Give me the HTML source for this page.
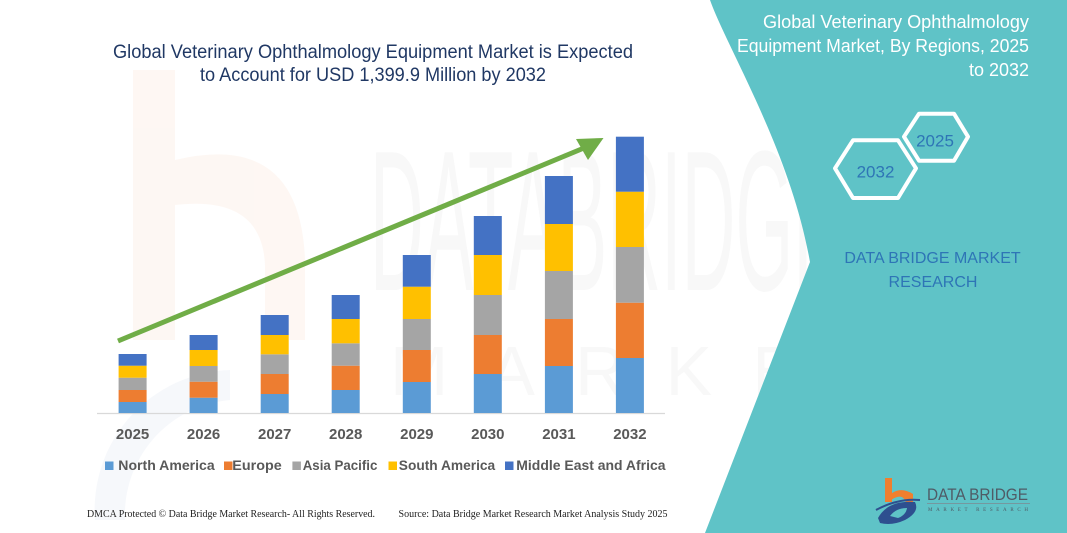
<!DOCTYPE html>
<html>
<head>
<meta charset="utf-8">
<style>
  html,body{margin:0;padding:0;background:#fff;}
  body{width:1067px;height:533px;overflow:hidden;}
  svg{display:block;}
</style>
</head>
<body>
<svg width="1067" height="533" viewBox="0 0 1067 533" xmlns="http://www.w3.org/2000/svg">
  <rect x="0" y="0" width="1067" height="533" fill="#ffffff"/>

  <!-- faint watermark: orange b -->
  <g opacity="0.5">
    <rect x="133" y="70" width="42" height="270" fill="#fdf0e8"/>
    <path d="M175,160 Q300,130 305,260 L305,340 L265,340 L265,265 Q262,195 175,205 Z" fill="#fdf0e8"/>
    <path d="M95,520 A140,140 0 0 1 230,370 L230,400 A115,115 0 0 0 125,520 Z" fill="#eef2f8"/>
  </g>
  <!-- faint watermark letters -->
  <g fill="#000" opacity="0.028" font-family="Liberation Sans, sans-serif">
    <text x="370" y="290" font-size="200" transform="translate(370,290) scale(0.55,1) translate(-370,-290)" textLength="860" lengthAdjust="spacingAndGlyphs">DATABRIDGE</text>
    <text x="390" y="395" font-size="70" letter-spacing="40">MARKET RESEARCH</text>
  </g>

  <!-- teal panel -->
  <path d="M710,0 C728,50 790,150 810,262 L705,533 L1067,533 L1067,0 Z" fill="#5FC3C7"/>

  <!-- left title -->
  <g font-family="Liberation Sans, sans-serif" font-size="19" fill="#203864">
    <text x="113" y="58" textLength="520" lengthAdjust="spacingAndGlyphs">Global Veterinary Ophthalmology Equipment Market is Expected</text>
    <text x="200" y="81" textLength="346" lengthAdjust="spacingAndGlyphs">to Account for USD 1,399.9 Million by 2032</text>
  </g>

  <!-- axis line -->
  <line x1="97" y1="413.5" x2="665" y2="413.5" stroke="#d9d9d9" stroke-width="1.2"/>

  <!-- bars -->
  <g>
    <!-- 2025 -->
    <rect x="118.6" y="402" width="28" height="11" fill="#5B9BD5"/>
    <rect x="118.6" y="390" width="28" height="12" fill="#ED7D31"/>
    <rect x="118.6" y="377.7" width="28" height="12.3" fill="#A5A5A5"/>
    <rect x="118.6" y="365.7" width="28" height="12" fill="#FFC000"/>
    <rect x="118.6" y="354" width="28" height="11.7" fill="#4472C4"/>
    <!-- 2026 -->
    <rect x="189.6" y="397.7" width="28" height="15.3" fill="#5B9BD5"/>
    <rect x="189.6" y="381.7" width="28" height="16" fill="#ED7D31"/>
    <rect x="189.6" y="366" width="28" height="15.7" fill="#A5A5A5"/>
    <rect x="189.6" y="350" width="28" height="16" fill="#FFC000"/>
    <rect x="189.6" y="335" width="28" height="15" fill="#4472C4"/>
    <!-- 2027 -->
    <rect x="260.7" y="394" width="28" height="19" fill="#5B9BD5"/>
    <rect x="260.7" y="374" width="28" height="20" fill="#ED7D31"/>
    <rect x="260.7" y="354.3" width="28" height="19.7" fill="#A5A5A5"/>
    <rect x="260.7" y="335" width="28" height="19.3" fill="#FFC000"/>
    <rect x="260.7" y="315" width="28" height="20" fill="#4472C4"/>
    <!-- 2028 -->
    <rect x="331.7" y="390" width="28" height="23" fill="#5B9BD5"/>
    <rect x="331.7" y="365.7" width="28" height="24.3" fill="#ED7D31"/>
    <rect x="331.7" y="343.3" width="28" height="22.4" fill="#A5A5A5"/>
    <rect x="331.7" y="319" width="28" height="24.3" fill="#FFC000"/>
    <rect x="331.7" y="295" width="28" height="24" fill="#4472C4"/>
    <!-- 2029 -->
    <rect x="402.8" y="382" width="28" height="31" fill="#5B9BD5"/>
    <rect x="402.8" y="350" width="28" height="32" fill="#ED7D31"/>
    <rect x="402.8" y="319" width="28" height="31" fill="#A5A5A5"/>
    <rect x="402.8" y="286.7" width="28" height="32.3" fill="#FFC000"/>
    <rect x="402.8" y="255" width="28" height="31.7" fill="#4472C4"/>
    <!-- 2030 -->
    <rect x="473.8" y="374" width="28" height="39" fill="#5B9BD5"/>
    <rect x="473.8" y="335" width="28" height="39" fill="#ED7D31"/>
    <rect x="473.8" y="295" width="28" height="40" fill="#A5A5A5"/>
    <rect x="473.8" y="255" width="28" height="40" fill="#FFC000"/>
    <rect x="473.8" y="216" width="28" height="39" fill="#4472C4"/>
    <!-- 2031 -->
    <rect x="544.9" y="366" width="28" height="47" fill="#5B9BD5"/>
    <rect x="544.9" y="319" width="28" height="47" fill="#ED7D31"/>
    <rect x="544.9" y="271" width="28" height="48" fill="#A5A5A5"/>
    <rect x="544.9" y="224" width="28" height="47" fill="#FFC000"/>
    <rect x="544.9" y="176" width="28" height="48" fill="#4472C4"/>
    <!-- 2032 -->
    <rect x="615.9" y="358" width="28" height="55" fill="#5B9BD5"/>
    <rect x="615.9" y="302.7" width="28" height="55.3" fill="#ED7D31"/>
    <rect x="615.9" y="247" width="28" height="55.7" fill="#A5A5A5"/>
    <rect x="615.9" y="191.7" width="28" height="55.3" fill="#FFC000"/>
    <rect x="615.9" y="136.7" width="28" height="55" fill="#4472C4"/>
  </g>

  <!-- arrow -->
  <line x1="118" y1="341" x2="584" y2="148" stroke="#70AD47" stroke-width="5"/>
  <polygon points="603.5,138 576,139 588,160" fill="#70AD47"/>

  <!-- year labels -->
  <g font-family="Liberation Sans, sans-serif" font-size="15" font-weight="bold" fill="#595959" text-anchor="middle">
    <text x="132.6" y="439">2025</text>
    <text x="203.6" y="439">2026</text>
    <text x="274.7" y="439">2027</text>
    <text x="345.7" y="439">2028</text>
    <text x="416.8" y="439">2029</text>
    <text x="487.8" y="439">2030</text>
    <text x="558.9" y="439">2031</text>
    <text x="629.9" y="439">2032</text>
  </g>

  <!-- legend -->
  <g font-family="Liberation Sans, sans-serif" font-size="14" font-weight="bold" fill="#595959">
    <rect x="105" y="461.5" width="8.5" height="8.5" fill="#5B9BD5"/>
    <text x="118.3" y="470" textLength="96.4" lengthAdjust="spacingAndGlyphs">North America</text>
    <rect x="224" y="461.5" width="8.5" height="8.5" fill="#ED7D31"/>
    <text x="232.3" y="470" textLength="49.4" lengthAdjust="spacingAndGlyphs">Europe</text>
    <rect x="292.4" y="461.5" width="8.5" height="8.5" fill="#A5A5A5"/>
    <text x="302.7" y="470" textLength="74.7" lengthAdjust="spacingAndGlyphs">Asia Pacific</text>
    <rect x="388.5" y="461.5" width="8.5" height="8.5" fill="#FFC000"/>
    <text x="398.8" y="470" textLength="96.4" lengthAdjust="spacingAndGlyphs">South America</text>
    <rect x="505" y="461.5" width="8.5" height="8.5" fill="#4472C4"/>
    <text x="516.3" y="470" textLength="149.2" lengthAdjust="spacingAndGlyphs">Middle East and Africa</text>
  </g>

  <!-- footer -->
  <g font-family="Liberation Serif, serif" font-size="10" fill="#222">
    <text x="87" y="517" textLength="288" lengthAdjust="spacingAndGlyphs">DMCA Protected © Data Bridge Market Research-  All Rights Reserved.</text>
    <text x="398.5" y="517" textLength="269" lengthAdjust="spacingAndGlyphs">Source:  Data Bridge Market Research  Market Analysis Study 2025</text>
  </g>

  <!-- right title -->
  <g font-family="Liberation Sans, sans-serif" font-size="18" fill="#ffffff">
    <text x="763" y="28" textLength="266" lengthAdjust="spacingAndGlyphs">Global Veterinary Ophthalmology</text>
    <text x="737" y="52" textLength="292" lengthAdjust="spacingAndGlyphs">Equipment Market, By Regions, 2025</text>
    <text x="1029" y="76" text-anchor="end">to 2032</text>
  </g>

  <!-- hexagons -->
  <g fill="none" stroke="#ffffff" stroke-width="4" stroke-linejoin="round">
    <polygon points="835,168.3 853,140.3 898,140.3 916,168.3 898,198 853,198"/>
    <polygon points="904,136.7 919,113.7 954,113.7 968,136.7 954,160.7 919,160.7"/>
  </g>
  <g font-family="Liberation Sans, sans-serif" font-size="17" fill="#2E75B6" text-anchor="middle">
    <text x="875.5" y="177.5">2032</text>
    <text x="935" y="146.5">2025</text>
  </g>

  <!-- DATA BRIDGE MARKET RESEARCH -->
  <g font-family="Liberation Sans, sans-serif" font-size="16" fill="#2E75B6" text-anchor="middle">
    <text x="932.5" y="263">DATA BRIDGE MARKET</text>
    <text x="933" y="287">RESEARCH</text>
  </g>

  <!-- logo -->
  <g>
    <rect x="885" y="478" width="7" height="24" fill="#F07F2E"/>
    <path d="M885,500 Q897,484 913,494 L913,503 L906,503 Q903,492 891,500 Z" fill="#F07F2E"/>
    <path d="M878,518 Q888,500 915,502 Q920,512 905,520 Q892,526 880,523 Z" fill="#2E4F8F"/>
    <path d="M890,516 Q896,508 907,508 Q906,515 898,518 Z" fill="#5FC3C7"/>
    <path d="M876,510 Q898,498 920,500" fill="none" stroke="#2E4F8F" stroke-width="2"/>
    <text x="927" y="500" font-family="Liberation Sans, sans-serif" font-size="17" fill="#4f5b66" textLength="101" lengthAdjust="spacingAndGlyphs">DATA BRIDGE</text>
    <line x1="927" y1="503.5" x2="1030" y2="503.5" stroke="#7d8a92" stroke-width="0.8"/>
    <text x="928" y="511" font-family="Liberation Serif, serif" font-size="5" fill="#4f5b66" textLength="100" lengthAdjust="spacing">MARKET  RESEARCH</text>
  </g>
</svg>
</body>
</html>
